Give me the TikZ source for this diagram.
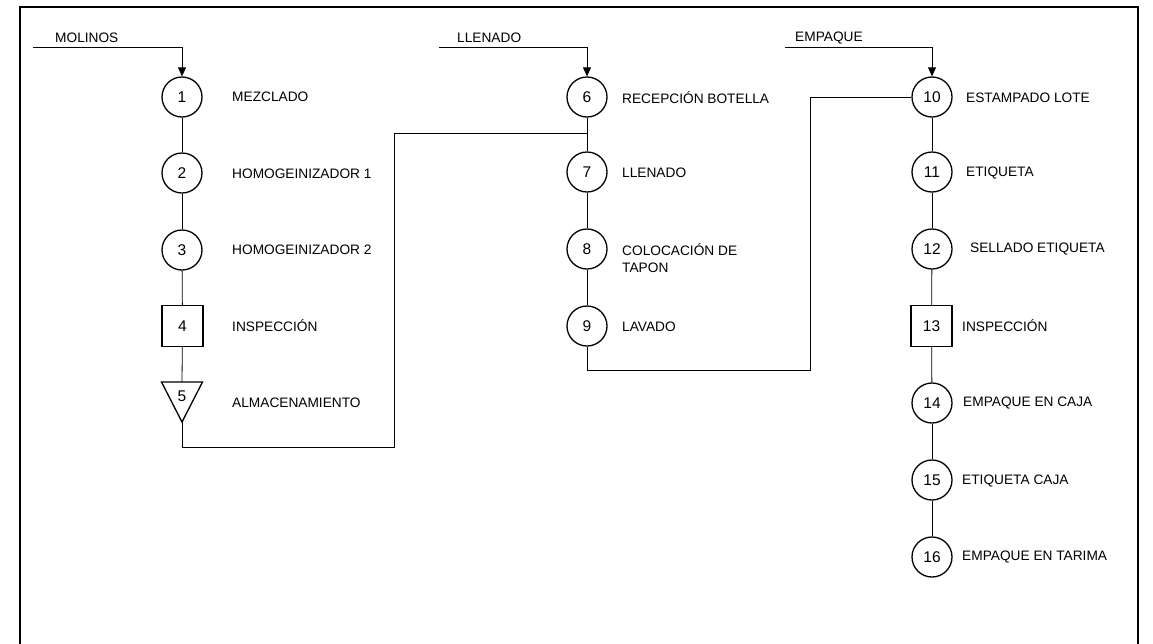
\documentclass[tikz,border=0pt]{standalone}
\usepackage{fontspec}
\setmainfont{Liberation Sans}
\usetikzlibrary{arrows.meta}
\begin{document}
\begin{tikzpicture}[x=1pt,y=-1pt,
  every node/.style={font=\fontsize{13.7}{16.5}\selectfont},
  op/.style={draw,circle,line width=1.3pt,minimum size=40pt,inner sep=0pt,font=\fontsize{15.5}{18}\selectfont},
  insp/.style={draw,rectangle,line width=1.3pt,minimum size=41pt,inner sep=0pt,font=\fontsize{15.5}{18}\selectfont},
  lbl/.style={anchor=west,inner sep=0pt},
  hdr/.style={anchor=west,inner sep=0pt},
  conn/.style={line width=0.8pt},
  feed/.style={line width=0.8pt,-{Triangle[length=9pt,width=8pt]}}]
\useasboundingbox (0,0) rectangle (1153,643);
\draw[line width=2pt] (20,650) -- (20,7) -- (1138,7) -- (1138,650);
% column 1
\node[op] (n1) at (182,97) {1};
\node[op] (n2) at (182,173) {2};
\node[op] (n3) at (182,250) {3};
\node[insp] (n4) at (182.5,326) {4};
\node[inner sep=0pt,font=\fontsize{15.5}{18}\selectfont] (n5) at (182,396) {5};
\draw[line width=1.3pt] (161.5,382) -- (202.5,382) -- (182,422) -- cycle;
\coordinate (n5t) at (182,382);
\coordinate (n5b) at (182,422);
\node[lbl] (l1) at (232,97) {MEZCLADO};
\node[lbl] (l2) at (232,174) {HOMOGEINIZADOR 1};
\node[lbl] (l3) at (232,250) {HOMOGEINIZADOR 2};
\node[lbl] (l4) at (232,326) {INSPECCIÓN};
\node[lbl] (l5) at (232,403) {ALMACENAMIENTO};
\node[hdr] (h1) at (55,38) {MOLINOS};
\coordinate (s1) at (33,47);
\draw[feed] (s1) -| (n1.north);
\draw[conn] (n1) -- (n2);
\draw[conn] (n2) -- (n3);
\draw[conn] (n3) -- (n4);
\draw[conn] (n4) -- (n5t);
% column 2
\node[op] (n6) at (587,97) {6};
\node[op] (n7) at (587,172) {7};
\node[op] (n8) at (587,249) {8};
\node[op] (n9) at (587,326) {9};
\node[lbl] (l6) at (622,98) {RECEPCIÓN BOTELLA};
\node[lbl] (l7) at (622,173) {LLENADO};
\node[lbl,align=left] (l8) at (622,258) {COLOCACIÓN DE\\TAPON};
\node[lbl] (l9) at (622,327) {LAVADO};
\node[hdr] (h2) at (457,38) {LLENADO};
\coordinate (s2) at (439,47);
\draw[feed] (s2) -| (n6.north);
\draw[conn] (n6) -- (n7);
\draw[conn] (n7) -- (n8);
\draw[conn] (n8) -- (n9);
\coordinate (j1) at (587,133);
\draw[conn] (n5b) -- (182,447) -- (394,447) -- (394,133) -- (j1);
% column 3
\node[op] (n10) at (932,97) {10};
\node[op] (n11) at (932,172) {11};
\node[op] (n12) at (932,249) {12};
\node[insp] (n13) at (931.5,326) {13};
\node[op] (n14) at (932,403) {14};
\node[op] (n15) at (932,480) {15};
\node[op] (n16) at (932,557) {16};
\node[lbl] (l10) at (966,98) {ESTAMPADO LOTE};
\node[lbl] (l11) at (966,173) {ETIQUETA};
\node[lbl] (l12) at (970,249) {SELLADO ETIQUETA};
\node[lbl] (l13) at (962,326) {INSPECCIÓN};
\node[lbl] (l14) at (963,403) {EMPAQUE EN CAJA};
\node[lbl] (l15) at (962,481) {ETIQUETA CAJA};
\node[lbl] (l16) at (962,557) {EMPAQUE EN TARIMA};
\node[hdr] (h3) at (795,38) {EMPAQUE};
\coordinate (s3) at (785,47);
\draw[feed] (s3) -| (n10.north);
\draw[conn] (n10) -- (n11);
\draw[conn] (n11) -- (n12);
\draw[conn] (n12) -- (n13);
\draw[conn] (n13) -- (n14);
\draw[conn] (n14) -- (n15);
\draw[conn] (n15) -- (n16);
\draw[conn] (n9.south) -- (587,370) -- (810,370) -- (810,97) -- (n10.west);
\end{tikzpicture}
\end{document}
